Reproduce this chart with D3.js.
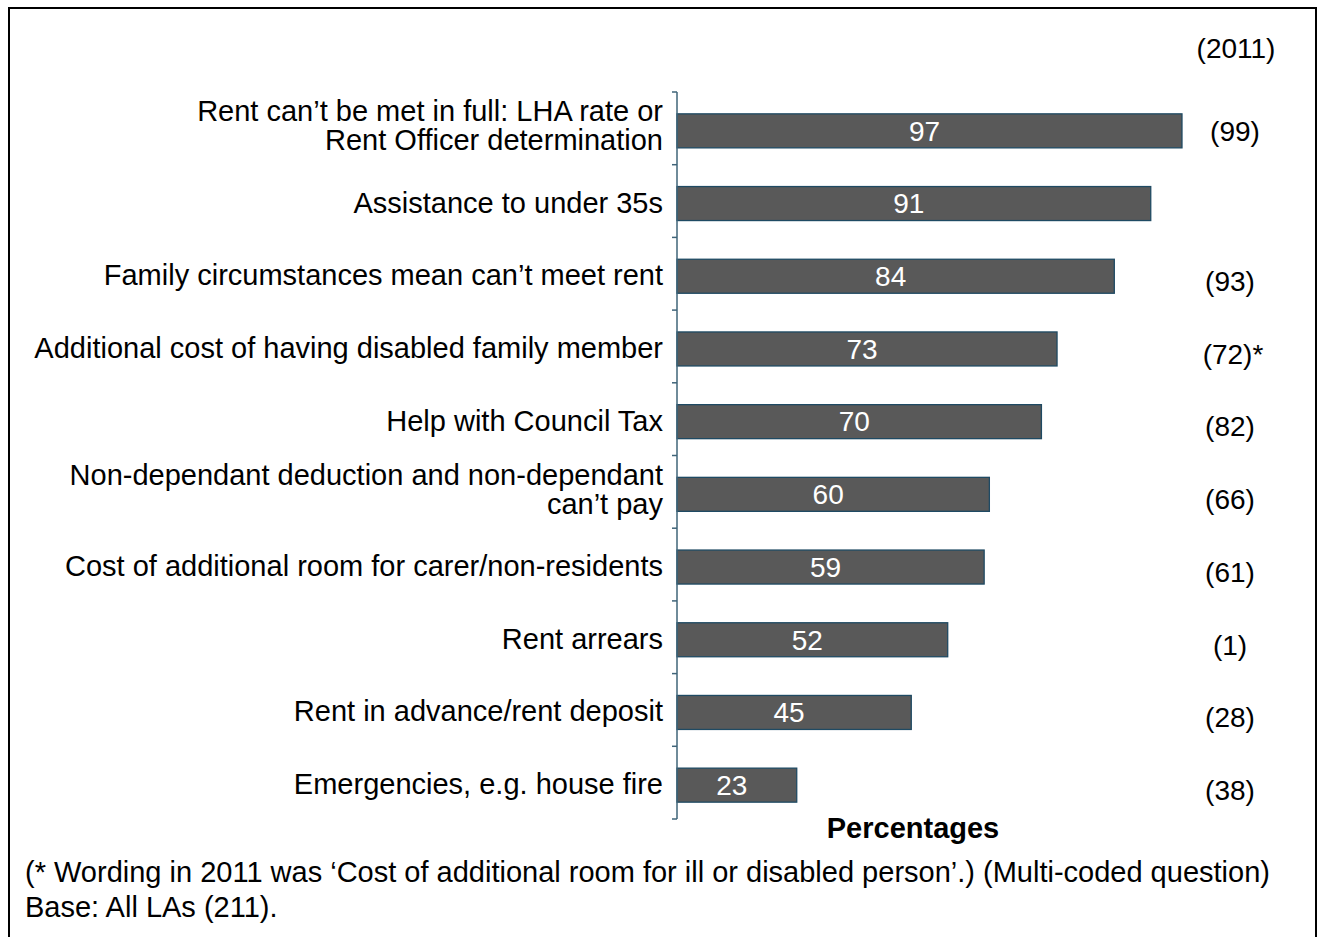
<!DOCTYPE html>
<html>
<head>
<meta charset="utf-8">
<script src="https://cdn.jsdelivr.net/npm/d3@7"></script>
<style>
  html, body { margin: 0; padding: 0; background: #fff; }
  svg { display: block; font-family: "Liberation Sans", Arial, sans-serif; }
</style>
</head>
<body>
<svg id="chart" width="1322" height="937"></svg>
<script>
const categories = [
  ["Rent can\u2019t be met in full: LHA rate or", "Rent Officer determination"],
  ["Assistance to under 35s"],
  ["Family circumstances mean can\u2019t meet rent"],
  ["Additional cost of having disabled family member"],
  ["Help with Council Tax"],
  ["Non-dependant deduction and non-dependant", "can\u2019t pay"],
  ["Cost of additional room for carer/non-residents"],
  ["Rent arrears"],
  ["Rent in advance/rent deposit"],
  ["Emergencies, e.g. house fire"]
];
const values2013 = [97, 91, 84, 73, 70, 60, 59, 52, 45, 23];
const values2011 = ["(99)", "", "(93)", "(72)*", "(82)", "(66)", "(61)", "(1)", "(28)", "(38)"];
const yearLabel = "(2011)";
const axisTitle = "Percentages";
const footnotes = [
  "(* Wording in 2011 was \u2018Cost of additional room for ill or disabled person\u2019.) (Multi-coded question)",
  "Base: All LAs (211)."
];

const svg = d3.select("#chart");

// frame
svg.append("rect")
  .attr("x", 9).attr("y", 8).attr("width", 1307).attr("height", 940)
  .attr("fill", "none").attr("stroke", "#000").attr("stroke-width", 2);

const idx = d3.range(categories.length);
const y = d3.scaleBand().domain(idx).range([92, 819]).paddingInner(0).paddingOuter(0);
const x = d3.scaleLinear().domain([0, 100]).range([677, 677 + 520.6]);
const barH = 34;
const barOffset = (y.bandwidth() - barH) / 2 + 2.5;
const cyOf = i => y(i) + barOffset + barH / 2;

// bars
svg.append("g").selectAll("rect")
  .data(values2013)
  .join("rect")
  .attr("x", x(0))
  .attr("y", (d, i) => y(i) + barOffset)
  .attr("width", d => x(d) - x(0))
  .attr("height", barH)
  .attr("fill", "#595959")
  .attr("stroke", "#1f4a63")
  .attr("stroke-width", 1.3);

// axis line and ticks (category boundaries)
const gAxis = svg.append("g").attr("transform", `translate(${x(0)},0)`);
gAxis.append("line")
  .attr("x1", 0).attr("x2", 0).attr("y1", y.range()[0]).attr("y2", y.range()[1])
  .attr("stroke", "#3f6479").attr("stroke-width", 1.5);
const tickYs = d3.range(categories.length + 1).map(i => y.range()[0] + i * y.step());
gAxis.selectAll("line.tick")
  .data(tickYs)
  .join("line").attr("class", "tick")
  .attr("x1", -5).attr("x2", 0)
  .attr("y1", d => d).attr("y2", d => d)
  .attr("stroke", "#3f6479").attr("stroke-width", 1.5);

// category labels
const labels = svg.append("g");
const lh = 29;
categories.forEach((lines, i) => {
  const cy = cyOf(i);
  const t = labels.append("text")
    .attr("text-anchor", "end")
    .attr("font-size", 29)
    .attr("fill", "#000");
  const mid = lines.length > 1 ? cy + 5 : cy + 9;
  const start = mid - (lines.length - 1) * lh / 2;
  lines.forEach((ln, j) => {
    t.append("tspan")
      .attr("x", 663)
      .attr("y", start + j * lh)
      .text(ln);
  });
});

// value labels in bars
svg.append("g").selectAll("text")
  .data(values2013)
  .join("text")
  .attr("x", d => (x(0) + x(d)) / 2 - 5)
  .attr("y", (d, i) => cyOf(i))
  .attr("dy", "0.35em")
  .attr("text-anchor", "middle")
  .attr("font-size", 28)
  .attr("fill", "#fff")
  .text(d => d);

// 2011 values
svg.append("text")
  .attr("x", 1236).attr("y", 48).attr("dy", "0.35em")
  .attr("text-anchor", "middle").attr("font-size", 28)
  .text(yearLabel);
svg.append("g").selectAll("text")
  .data(values2011)
  .join("text")
  .attr("x", (d, i) => i === 0 ? 1235 : (d.endsWith("*") ? 1233 : 1230))
  .attr("y", (d, i) => cyOf(i) + (i === 0 ? 0 : 5))
  .attr("dy", "0.35em")
  .attr("text-anchor", "middle")
  .attr("font-size", 28)
  .text(d => d);

// axis title
svg.append("text")
  .attr("x", 913).attr("y", 828).attr("dy", "0.35em")
  .attr("text-anchor", "middle").attr("font-size", 29).attr("font-weight", "bold")
  .text(axisTitle);

// footnotes
footnotes.forEach((f, i) => {
  svg.append("text")
    .attr("x", 25).attr("y", 872 + i * 35).attr("dy", "0.35em")
    .attr("font-size", 29)
    .text(f);
});
</script>
</body>
</html>
